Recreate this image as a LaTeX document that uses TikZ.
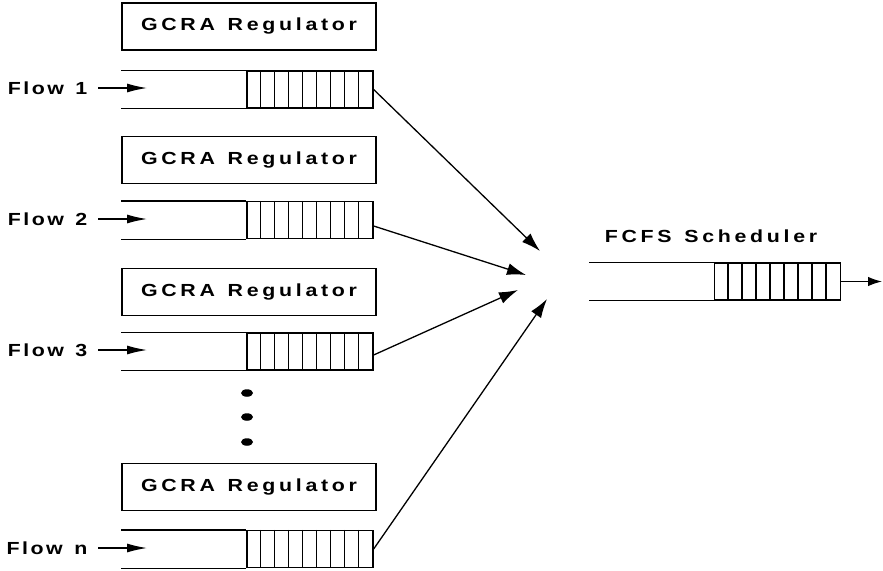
\documentclass[tikz,border=0pt]{standalone}
\usepackage{fontspec}
\setmainfont{Liberation Sans}
\newfontfamily\widefont[FakeStretch=1.22]{Liberation Sans}
\usetikzlibrary{arrows.meta,calc,shapes.geometric}
\makeatletter
\newlength\spcgap
\newcommand{\spc}[2][3.7pt]{\setlength\spcgap{#1}\spc@a#2\@nil}
\def\spc@a#1{\ifx#1\@nil\kern-\spcgap\else\ifx#1~\hspace{9pt}\else#1\kern\spcgap\fi\expandafter\spc@a\fi}
\makeatother
\begin{document}
\begin{tikzpicture}[x=1pt,y=-1pt,line width=1.3pt,
  regbox/.style={draw,minimum width=254pt,minimum height=47pt,inner sep=0pt,
    font=\widefont\bfseries\fontsize{17.5}{20}\selectfont},
  cellblock/.style={draw,minimum width=126pt,minimum height=37pt,inner sep=0pt},
  lbl/.style={font=\widefont\bfseries\fontsize{17.5}{20}\selectfont,inner sep=0pt},
  dot/.style={ellipse,fill,minimum width=12pt,minimum height=7.5pt,inner sep=0pt},
  flowtip/.style={-{Latex[length=20pt,width=9pt]}},
  bigtip/.style={-{Latex[length=19pt,width=12pt]}},
  outtip/.style={-{Latex[length=14pt,width=9.5pt]}}
]
\useasboundingbox (0,0) rectangle (883,570);

% regulators
\node[regbox] (r1) at (249,26.5) {\spc{GCRA~Regulator}};
\node[regbox] (r2) at (249,160) {\spc{GCRA~Regulator}};
\node[regbox] (r3) at (249,292) {\spc{GCRA~Regulator}};
\node[regbox] (rn) at (249,487) {\spc{GCRA~Regulator}};

% queues
\foreach \n/\y in {1/89.5,2/220,3/351.5,n/549}{
  \node[cellblock] (c\n) at (310,\y) {};
  \foreach \i in {1,...,8}
    \draw ($(c\n.north west)+(\i*14,0)$) -- ($(c\n.south west)+(\i*14,0)$);
  \draw (c\n.north west) -- ++(-125,0);
  \draw (c\n.south west) -- ++(-125,0);
}

% flow labels and input arrows
\foreach \n/\t/\y in {1/1/88,2/2/219,3/3/350,n/n/548}{
  \node[lbl,anchor=east] (f\n) at (88,\y) {\spc[2.5pt]{Flow~\t}};
  \coordinate (a\n) at (147,\y);
  \draw[flowtip] ([xshift=10pt]f\n.east) -- (a\n);
}

% dots
\node[dot] (d1) at (247,393) {};
\node[dot] (d2) at (247,417) {};
\node[dot] (d3) at (247,442) {};

% scheduler
\node[cellblock] (s) at (777.5,281.5) {};
\foreach \i in {1,...,8}
  \draw ($(s.north west)+(\i*14,0)$) -- ($(s.south west)+(\i*14,0)$);
\draw (s.north west) -- ++(-125,0);
\draw (s.south west) -- ++(-125,0);
\node[lbl] (sl) at (711,236) {\spc{FCFS~Scheduler}};
\coordinate (out) at (882,281.5);
\draw[outtip] (s.east) -- (out);

% converging arrows
\coordinate (t1) at (540,251);
\coordinate (t2) at (526,275);
\coordinate (t3) at (518,290);
\coordinate (tn) at (547,299);
\draw[bigtip] (c1.east) -- (t1);
\draw[bigtip] ([yshift=-6pt]c2.east) -- (t2);
\draw[bigtip] ([yshift=-3.5pt]c3.east) -- (t3);
\draw[bigtip] (cn.east) -- (tn);
\end{tikzpicture}
\end{document}
